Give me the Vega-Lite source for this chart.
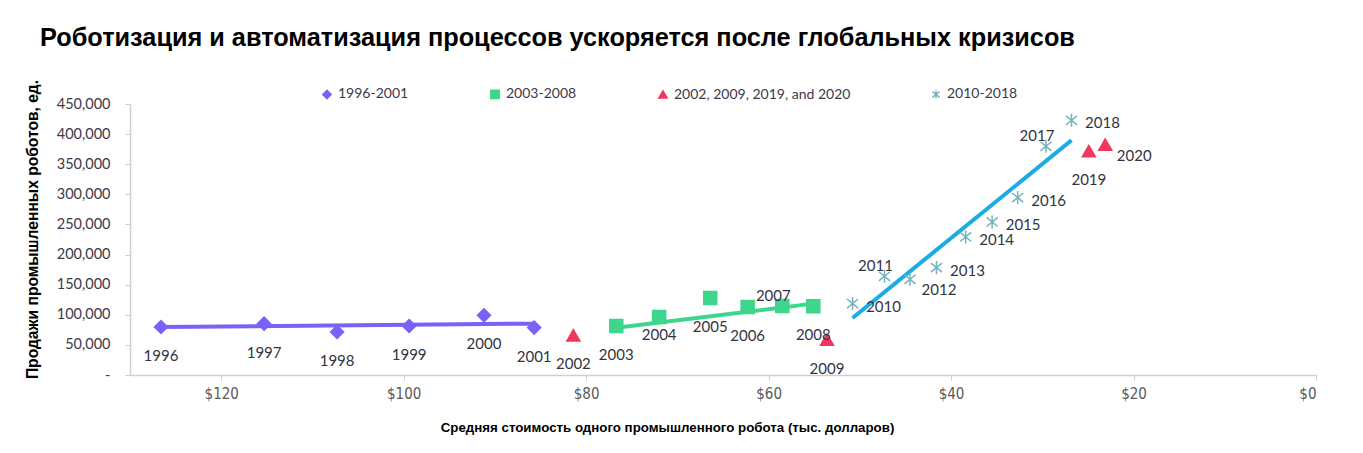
{
  "$schema": "https://vega.github.io/schema/vega-lite/v6.json",
  "width": 1186,
  "height": 271,
  "autosize": {"type": "none"},
  "padding": {"left": 130, "top": 104, "right": 47, "bottom": 78},
  "background": "white",
  "title": {
    "text": "Роботизация и автоматизация процессов ускоряется после глобальных кризисов",
    "anchor": "start",
    "frame": "group",
    "dx": -90,
    "offset": 28,
    "font": "Liberation Sans",
    "fontSize": 25.3,
    "fontWeight": "bold",
    "color": "#000000"
  },
  "config": {
    "view": {"stroke": null},
    "axis": {"grid": false, "domainColor": "#cfcfcf", "tickColor": "#cfcfcf", "domainWidth": 1.5}
  },
  "datasets": {
    "points": [
      {"year": "1996", "cost": 126.6, "sales": 79700, "series": "1996-2001", "pos": "below"},
      {"year": "1997", "cost": 115.3, "sales": 85300, "series": "1996-2001", "pos": "below"},
      {"year": "1998", "cost": 107.3, "sales": 71400, "series": "1996-2001", "pos": "below"},
      {"year": "1999", "cost": 99.4, "sales": 81400, "series": "1996-2001", "pos": "below"},
      {"year": "2000", "cost": 91.2, "sales": 99100, "series": "1996-2001", "pos": "below"},
      {"year": "2001", "cost": 85.7, "sales": 78700, "series": "1996-2001", "pos": "below"},
      {"year": "2002", "cost": 81.4, "sales": 65900, "series": "2002, 2009, 2019, and 2020", "pos": "below"},
      {"year": "2003", "cost": 76.7, "sales": 81400, "series": "2003-2008", "pos": "below"},
      {"year": "2004", "cost": 72.0, "sales": 96300, "series": "2003-2008", "pos": "belowclose"},
      {"year": "2005", "cost": 66.4, "sales": 127900, "series": "2003-2008", "pos": "below"},
      {"year": "2006", "cost": 62.3, "sales": 112900, "series": "2003-2008", "pos": "below"},
      {"year": "2007", "cost": 58.5, "sales": 114600, "series": "2003-2008", "pos": "upleft"},
      {"year": "2008", "cost": 55.1, "sales": 114100, "series": "2003-2008", "pos": "below"},
      {"year": "2009", "cost": 53.6, "sales": 58800, "series": "2002, 2009, 2019, and 2020", "pos": "below"},
      {"year": "2010", "cost": 50.8, "sales": 118600, "series": "2010-2018", "pos": "right"},
      {"year": "2011", "cost": 47.3, "sales": 163900, "series": "2010-2018", "pos": "upleft"},
      {"year": "2012", "cost": 44.5, "sales": 158900, "series": "2010-2018", "pos": "downright"},
      {"year": "2013", "cost": 41.6, "sales": 178300, "series": "2010-2018", "pos": "right"},
      {"year": "2014", "cost": 38.4, "sales": 229200, "series": "2010-2018", "pos": "right"},
      {"year": "2015", "cost": 35.5, "sales": 254100, "series": "2010-2018", "pos": "right"},
      {"year": "2016", "cost": 32.7, "sales": 294600, "series": "2010-2018", "pos": "right"},
      {"year": "2017", "cost": 29.6, "sales": 379800, "series": "2010-2018", "pos": "upleft"},
      {"year": "2018", "cost": 26.8, "sales": 422900, "series": "2010-2018", "pos": "right"},
      {"year": "2019", "cost": 24.9, "sales": 371900, "series": "2002, 2009, 2019, and 2020", "pos": "below"},
      {"year": "2020", "cost": 23.1, "sales": 382600, "series": "2002, 2009, 2019, and 2020", "pos": "downright"}
    ],
    "trend": [
      {"trend": "1996-2001", "cost": 126.6, "sales": 79500},
      {"trend": "1996-2001", "cost": 85.7, "sales": 85300},
      {"trend": "2003-2008", "cost": 76.7, "sales": 78500},
      {"trend": "2003-2008", "cost": 55.1, "sales": 118500},
      {"trend": "2010-2018", "cost": 50.8, "sales": 94600},
      {"trend": "2010-2018", "cost": 26.8, "sales": 389700}
    ]
  },
  "encoding": {
    "x": {
      "field": "cost",
      "type": "quantitative",
      "scale": {"domain": [0, 130], "reverse": true, "nice": false, "zero": true},
      "axis": {
        "values": [0, 20, 40, 60, 80, 100, 120],
        "labelExpr": "'$' + datum.value",
        "labelFont": "DejaVu Sans Condensed, Liberation Sans",
        "labelFontSize": 15,
        "labelColor": "#595959",
        "labelPadding": 6,
        "tickSize": 5,
        "title": "Средняя стоимость одного промышленного робота (тыс. долларов)",
        "titleFont": "Liberation Sans",
        "titleFontSize": 13.3,
        "titleFontWeight": "bold",
        "titleColor": "#000000",
        "titleX": 537,
        "titleY": 52,
        "titleAlign": "center",
        "titleBaseline": "middle"
      }
    },
    "y": {
      "field": "sales",
      "type": "quantitative",
      "scale": {"domain": [0, 450000], "nice": false},
      "axis": {
        "values": [0, 50000, 100000, 150000, 200000, 250000, 300000, 350000, 400000, 450000],
        "labelExpr": "datum.value === 0 ? '-\u00a0\u00a0\u00a0\u00a0' : format(datum.value, ',')",
        "labelFont": "Lato",
        "labelFontSize": 14.5,
        "labelColor": "#3a3a48",
        "labelPadding": 15,
        "tickSize": 5,
        "title": "Продажи промышленных роботов, ед.",
        "titleFont": "Liberation Sans",
        "titleFontSize": 15.6,
        "titleFontWeight": "bold",
        "titleColor": "#000000",
        "titleX": -98,
        "titleY": 125,
        "titleAngle": -90,
        "titleAlign": "center",
        "titleBaseline": "middle"
      }
    }
  },
  "layer": [
    {
      "data": {"name": "trend"},
      "transform": [{"filter": "datum.trend === '1996-2001'"}],
      "mark": {"type": "line", "color": "#7b61f8", "strokeWidth": 4},
      "encoding": {}
    },
    {
      "data": {"name": "trend"},
      "transform": [{"filter": "datum.trend === '2003-2008'"}],
      "mark": {"type": "line", "color": "#3dd68c", "strokeWidth": 4},
      "encoding": {}
    },
    {
      "data": {"name": "trend"},
      "transform": [{"filter": "datum.trend === '2010-2018'"}],
      "mark": {"type": "line", "color": "#19ace6", "strokeWidth": 4},
      "encoding": {}
    },
    {
      "data": {"name": "points"},
      "mark": {"type": "point", "filled": true, "size": 170, "strokeWidth": 1.5, "opacity": 1},
      "encoding": {
        "fill": {
          "field": "series", "type": "nominal",
          "scale": {"domain": ["1996-2001", "2003-2008", "2002, 2009, 2019, and 2020", "2010-2018"], "range": ["#7b61f8", "#3dd68c", "#f0385e", "#74b3bd"]},
          "legend": {"title": null, "orient": "none", "legendX": 190, "legendY": -17, "direction": "horizontal", "columnPadding": 78, "symbolSize": 70, "labelFont": "Lato", "labelFontSize": 14, "labelColor": "#3a3a48", "labelOffset": 4, "labelLimit": 400, "padding": 0}
        },
        "stroke": {
          "field": "series", "type": "nominal",
          "scale": {"domain": ["1996-2001", "2003-2008", "2002, 2009, 2019, and 2020", "2010-2018"], "range": ["#7b61f8", "#3dd68c", "#f0385e", "#74b3bd"]},
          "legend": {"title": null, "orient": "none", "legendX": 190, "legendY": -17, "direction": "horizontal", "columnPadding": 78, "symbolSize": 70, "labelFont": "Lato", "labelFontSize": 14, "labelColor": "#3a3a48", "labelOffset": 4, "labelLimit": 400, "padding": 0}
        },
        "shape": {
          "field": "series", "type": "nominal",
          "scale": {"domain": ["1996-2001", "2003-2008", "2002, 2009, 2019, and 2020", "2010-2018"], "range": ["diamond", "square", "triangle-up", "M0,-1V1M-0.85,-0.7L0.85,0.7M-0.85,0.7L0.85,-0.7"]},
          "legend": {"title": null, "orient": "none", "legendX": 190, "legendY": -17, "direction": "horizontal", "columnPadding": 78, "symbolSize": 70, "labelFont": "Lato", "labelFontSize": 14, "labelColor": "#3a3a48", "labelOffset": 4, "labelLimit": 400, "padding": 0}
        }
      }
    },
    {
      "data": {"name": "points"},
      "transform": [{"filter": "datum.pos === 'below'"}],
      "mark": {"type": "text", "font": "Lato", "fontSize": 15, "color": "#33333f", "dy": 29, "align": "center", "baseline": "middle"},
      "encoding": {"text": {"field": "year"}}
    },
    {
      "data": {"name": "points"},
      "transform": [{"filter": "datum.pos === 'belowclose'"}],
      "mark": {"type": "text", "font": "Lato", "fontSize": 15, "color": "#33333f", "dy": 18, "align": "center", "baseline": "middle"},
      "encoding": {"text": {"field": "year"}}
    },
    {
      "data": {"name": "points"},
      "transform": [{"filter": "datum.pos === 'right'"}],
      "mark": {"type": "text", "font": "Lato", "fontSize": 15, "color": "#33333f", "dx": 31, "dy": 3, "align": "center", "baseline": "middle"},
      "encoding": {"text": {"field": "year"}}
    },
    {
      "data": {"name": "points"},
      "transform": [{"filter": "datum.pos === 'upleft'"}],
      "mark": {"type": "text", "font": "Lato", "fontSize": 15, "color": "#33333f", "dx": -9, "dy": -10, "align": "center", "baseline": "middle"},
      "encoding": {"text": {"field": "year"}}
    },
    {
      "data": {"name": "points"},
      "transform": [{"filter": "datum.pos === 'downright'"}],
      "mark": {"type": "text", "font": "Lato", "fontSize": 15, "color": "#33333f", "dx": 29, "dy": 11, "align": "center", "baseline": "middle"},
      "encoding": {"text": {"field": "year"}}
    }
  ]
}
